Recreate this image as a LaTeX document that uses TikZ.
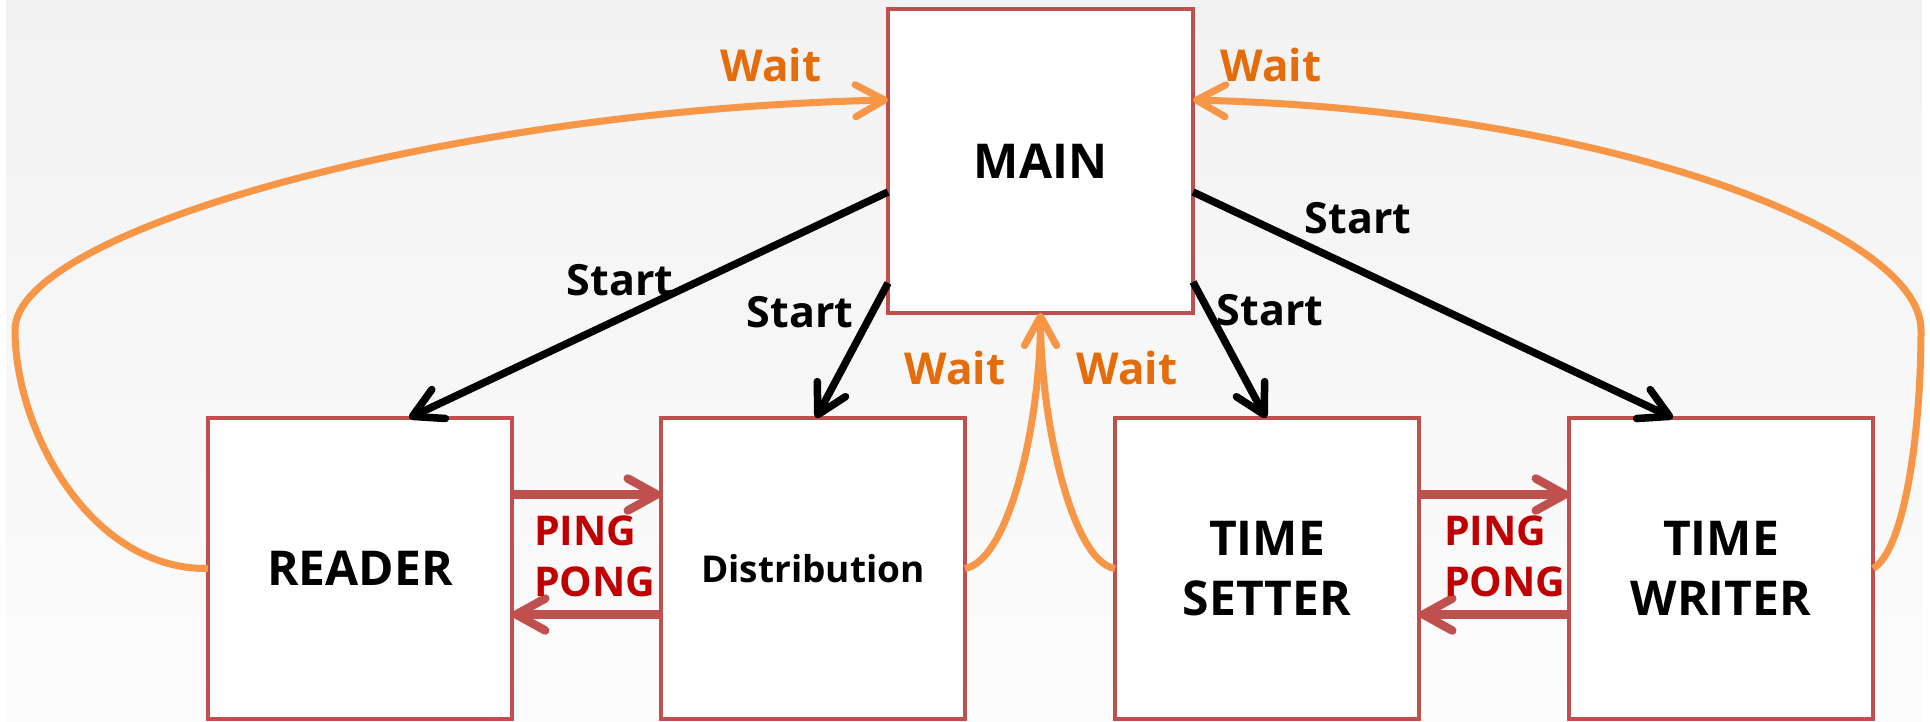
\documentclass[tikz,border=0pt]{standalone}
\usepackage{fontspec}
\setmainfont{Open Sans}
\usetikzlibrary{arrows.meta,calc}
\definecolor{boxred}{HTML}{C0504D}
\definecolor{orangeline}{HTML}{F79646}
\definecolor{waittext}{HTML}{E46C0A}
\definecolor{pingtext}{HTML}{C00000}
\definecolor{bgtop}{HTML}{F2F2F2}
\definecolor{bgbot}{HTML}{FCFCFC}

\begin{document}
\begin{tikzpicture}[x=1pt,y=-1pt,
  blk/.style={draw=boxred, line width=4.5pt, fill=white, inner sep=0pt, outer sep=0pt,
    minimum width=304pt, minimum height=301pt, align=center,
    font=\fontsize{48}{60}\selectfont\bfseries},
  tipbarb/.style={-{Straight Barb[length=29pt,width=32pt,round]}},
  startline/.style={tipbarb, draw=black, line width=7.5pt},
  waitline/.style={tipbarb, draw=orangeline, line width=7pt},
  pingline/.style={tipbarb, draw=boxred, line width=8.5pt},
  startlbl/.style={font=\fontsize{43}{50}\selectfont\bfseries, anchor=base, inner sep=0pt},
  waitlbl/.style={text=waittext, font=\fontsize{44}{50}\selectfont\bfseries, anchor=base, inner sep=0pt},
  pinglbl/.style={text=pingtext, font=\fontsize{41}{51}\selectfont\bfseries, anchor=base west,
    inner sep=0pt, align=left},
]
\useasboundingbox (0,0) rectangle (1930,721);
\fill[top color=bgtop, bottom color=bgbot] (6,0) rectangle (1922,721);

% process boxes
\node[blk, minimum width=305pt, minimum height=304pt] (main) at (1040.5,161) {MAIN};
\node[blk] (reader) at (360,568.5) {READER};
\node[blk, font=\fontsize{37}{46}\selectfont\bfseries] (dist) at (813,568.5) {Distribution};
\node[blk] (setter) at (1267,568.5) {TIME\\SETTER};
\node[blk] (writer) at (1721,568.5) {TIME\\WRITER};

% outer bends of the long wait loops
\coordinate (lbend) at (15,330);
\coordinate (rbend) at (1921,330);

% start signals
\draw[startline] ([yshift=-31pt]main.west) -- ([xshift=49pt]reader.north);
\draw[startline] ([yshift=-122pt]main.west) -- ([xshift=3pt]dist.north);
\draw[startline] ([yshift=-121pt]main.east) -- ([xshift=-1pt]setter.north);
\draw[startline] ([yshift=-31pt]main.east) -- ([xshift=-48pt]writer.north);

\node[startlbl] (st1) at (620,295) {Start};
\node[startlbl] (st2) at (800,327) {Start};
\node[startlbl] (st3) at (1270,325) {Start};
\node[startlbl] (st4) at (1358,233) {Start};

% wait signals
\draw[waitline] (reader.west) .. controls (90,570) and (15,430) .. (lbend)
  .. controls (15,230) and (450,110) .. ([yshift=61pt]main.west);
\draw[waitline] (writer.east) .. controls (1905,550) and (1921,430) .. (rbend)
  .. controls (1921,230) and (1600,110) .. ([yshift=61pt]main.east);
\draw[waitline] (dist.east) .. controls (1010,560) and (1040.5,420) .. (main.south);
\draw[waitline] (setter.west) .. controls (1072,562) and (1040.5,420) .. (main.south);

\node[waitlbl] (w1) at (771,81) {Wait};
\node[waitlbl] (w2) at (1271,81) {Wait};
\node[waitlbl] (w3) at (955,384) {Wait};
\node[waitlbl] (w4) at (1127,384) {Wait};

% ping-pong handshakes
\draw[pingline] ([yshift=74pt]reader.east) -- ([yshift=74pt]dist.west);
\draw[pingline] ([yshift=-46pt]dist.west) -- ([yshift=-46pt]reader.east);
\draw[pingline] ([yshift=74pt]setter.east) -- ([yshift=74pt]writer.west);
\draw[pingline] ([yshift=-46pt]writer.west) -- ([yshift=-46pt]setter.east);

% the node's base anchor sits on the last line (PONG)
\node[pinglbl] (pp1) at (534,596) {PING\\PONG};
\node[pinglbl] (pp2) at (1444,596) {PING\\PONG};
\end{tikzpicture}
\end{document}
